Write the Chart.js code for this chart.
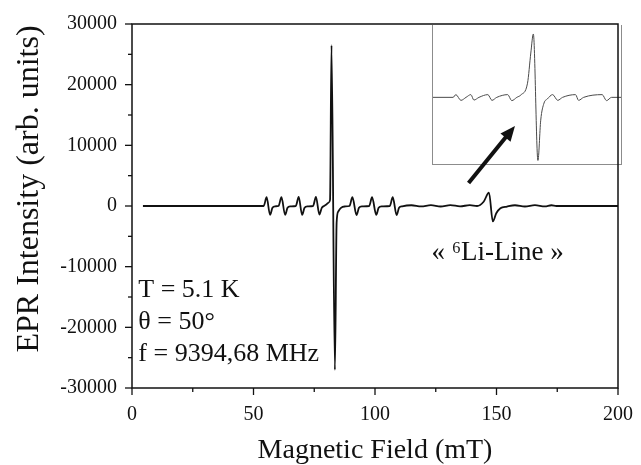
<!DOCTYPE html>
<html>
<head>
<meta charset="utf-8">
<script src="https://cdn.jsdelivr.net/npm/chart.js@4.4.1/dist/chart.umd.min.js"></script>
<style>
  html, body { margin: 0; padding: 0; background: #fff; }
  #wrap { position: relative; width: 641px; height: 465px; }
  #main { position: absolute; left: 0; top: 0; z-index: 2; }
  #insetBox {
    position: absolute; left: 432px; top: 25px; width: 190px; height: 140px; z-index: 1;
    box-sizing: border-box; border: 1px solid #8c8c8c; border-top: none; background: #fff;
  }
  #inset { display: block; }
</style>
</head>
<body>
<div id="wrap">
  <div id="insetBox"><canvas id="inset" width="188" height="139"></canvas></div>
  <canvas id="main" width="641" height="465"></canvas>
</div>
<script>
// spectrum: field in mT, intensity in arb. units
const fieldMT = [
  4.5, 30, 52.0,
  54.2, 55.4, 56.8, 57.8, 58.9,
  60.3, 61.5, 63.0, 64.0, 65.1,
  67.4, 68.6, 70.0, 71.0, 72.2,
  74.5, 75.7, 77.1, 78.1, 79.0,
  80.0, 80.9, 81.5, 82.1, 83.5, 84.2, 84.9, 86.0, 87.5,
  89.5, 90.7, 92.4, 93.4, 94.6,
  97.6, 98.8, 100.5, 101.5, 102.7,
  106.1, 107.3, 108.9, 109.9, 111.2,
  115, 119, 123, 127, 131, 135, 139, 142,
  144.7, 146.9, 148.5, 149.9, 151.6, 154.3,
  157.6, 161.7, 165.8, 169.9, 172.6, 174.6, 200
];
const eprIntensity = [
  0, 0, 0,
  0, 1450, -1450, -300, -50,
  0, 1450, -1450, -300, -50,
  0, 1500, -1450, -300, -50,
  0, 1500, -1400, -300, 0,
  250, 550, 1000, 26500, -27000, -2800, -900, -300, -80,
  0, 1450, -1500, -300, -50,
  0, 1450, -1450, -300, -50,
  0, 1450, -1500, -300, -50,
  120, -60, 130, -80, 150, -60, 140, 0,
  700, 2200, -2550, -1200, -380, -100,
  120, -80, 130, -60, 120, 0, 0
];

// inset trace
const insetField = [
  110, 117.9, 119.0, 121.0, 123.0, 124.9, 126.1, 128.1,
  131.6, 133.2, 135.1, 139.4, 141.0, 143.0,
  144.6, 147.2, 148.5, 149.5, 151.3, 152.4, 153.7, 155.0,
  157.1, 159.1, 161.0, 166.1, 167.3, 169.3, 176.6, 178.3, 180.3, 185
];
const insetIntensity = [
  0, 0, 100, -110, 0, 100, -100, 0,
  100, -110, 0, 100, -120, 0,
  90, 520, 1630, 2330, -2320, -840, -210, -60,
  100, -110, 0, 100, -110, 0, 100, -120, 0, 0
];

const xTicks = [0, 50, 100, 150, 200];
const xMinorTicks = [25, 75, 125, 175];
const yTicks = [-30000, -20000, -10000, 0, 10000, 20000, 30000];
const yMinorTicks = [-25000, -15000, -5000, 5000, 15000, 25000];

const conditionLines = ["T = 5.1 K", "θ = 50°", "f = 9394,68 MHz"];
const lineLabel = "« ⁶Li-Line »";
const yTitle = "EPR Intensity (arb. units)";
const xTitle = "Magnetic Field (mT)";

const serif = "'Liberation Serif', 'Times New Roman', serif";
const ink = "#111111";

const toPoints = (xs, ys) => xs.map((x, i) => ({ x, y: ys[i] }));

const decorations = {
  id: "decorations",
  afterDraw(chart) {
    const { ctx, chartArea: a, scales: { x, y } } = chart;
    const seg = (x1, y1, x2, y2) => {
      ctx.beginPath();
      ctx.moveTo(x1, y1);
      ctx.lineTo(x2, y2);
      ctx.stroke();
    };
    ctx.save();
    ctx.strokeStyle = ink;
    ctx.lineWidth = 1.5;
    ctx.strokeRect(a.left, a.top, a.right - a.left, a.bottom - a.top);

    ctx.lineWidth = 1.3;
    xTicks.forEach((v) => { const p = x.getPixelForValue(v); seg(p, a.bottom, p, a.bottom + 7); });
    xMinorTicks.forEach((v) => { const p = x.getPixelForValue(v); seg(p, a.bottom, p, a.bottom + 4); });
    yTicks.forEach((v) => { const p = y.getPixelForValue(v); seg(a.left, p, a.left - 7, p); });
    yMinorTicks.forEach((v) => { const p = y.getPixelForValue(v); seg(a.left, p, a.left - 4, p); });

    // rotated y title
    ctx.fillStyle = ink;
    ctx.font = `32px ${serif}`;
    ctx.textAlign = "center";
    ctx.textBaseline = "middle";
    ctx.translate(30, 189);
    ctx.rotate(-Math.PI / 2);
    ctx.fillText(yTitle, 0, 0);
    ctx.setTransform(1, 0, 0, 1, 0, 0);

    // measurement conditions
    ctx.font = `26px ${serif}`;
    ctx.textAlign = "left";
    ctx.textBaseline = "alphabetic";
    const noteY = [-15000, -20300, -25500];
    conditionLines.forEach((t, i) => ctx.fillText(t, x.getPixelForValue(2.6), y.getPixelForValue(noteY[i])));

    ctx.font = `27px ${serif}`;
    ctx.fillText(lineLabel, x.getPixelForValue(123.2), y.getPixelForValue(-8900));

    // arrow pointing into the inset
    const tx = x.getPixelForValue(138.5), ty = y.getPixelForValue(3800);
    const hx = x.getPixelForValue(157.6), hy = y.getPixelForValue(13200);
    const ang = Math.atan2(hy - ty, hx - tx);
    const headLen = 15, headHalf = 6.5;
    const bx = hx - headLen * Math.cos(ang), by = hy - headLen * Math.sin(ang);
    ctx.lineWidth = 4;
    ctx.lineCap = "butt";
    seg(tx, ty, bx + 2 * Math.cos(ang), by + 2 * Math.sin(ang));
    ctx.beginPath();
    ctx.moveTo(hx, hy);
    ctx.lineTo(bx + headHalf * Math.sin(ang), by - headHalf * Math.cos(ang));
    ctx.lineTo(bx - headHalf * Math.sin(ang), by + headHalf * Math.cos(ang));
    ctx.closePath();
    ctx.fill();
    ctx.restore();
  },
};

new Chart(document.getElementById("main"), {
  type: "line",
  data: {
    datasets: [{
      data: toPoints(fieldMT, eprIntensity),
      borderColor: ink,
      borderWidth: 1.8,
      pointRadius: 0,
      cubicInterpolationMode: "monotone",
      fill: false,
    }],
  },
  options: {
    responsive: false,
    animation: false,
    devicePixelRatio: 1,
    layout: { padding: { top: 24, right: 17, left: 0, bottom: 0 } },
    plugins: { legend: { display: false }, tooltip: { enabled: false } },
    scales: {
      x: {
        type: "linear",
        min: 0,
        max: 200,
        afterBuildTicks: (s) => { s.ticks = xTicks.map((v) => ({ value: v })); },
        afterFit: (s) => { s.height = 77; },
        ticks: { font: { family: serif, size: 20 }, color: ink, padding: 8, maxRotation: 0 },
        grid: { display: false, tickLength: 7 },
        border: { display: false },
        title: {
          display: true,
          text: xTitle,
          color: ink,
          font: { family: serif, size: 28, lineHeight: 1 },
          padding: 0,
        },
      },
      y: {
        type: "linear",
        min: -30000,
        max: 30000,
        afterBuildTicks: (s) => { s.ticks = yTicks.map((v) => ({ value: v })); },
        afterFit: (s) => { s.width = 132; },
        ticks: { font: { family: serif, size: 20 }, color: ink, padding: 8, callback: (v) => String(v) },
        grid: { display: false, tickLength: 7 },
        border: { display: false },
      },
    },
  },
  plugins: [decorations],
});

new Chart(document.getElementById("inset"), {
  type: "line",
  data: {
    datasets: [{
      data: toPoints(insetField, insetIntensity),
      borderColor: "#4a4a4a",
      borderWidth: 1,
      pointRadius: 0,
      cubicInterpolationMode: "monotone",
      fill: false,
    }],
  },
  options: {
    responsive: false,
    animation: false,
    devicePixelRatio: 1,
    layout: { padding: 0 },
    plugins: { legend: { display: false }, tooltip: { enabled: false } },
    scales: {
      x: { type: "linear", display: false, min: 110, max: 184 },
      y: { type: "linear", display: false, min: -2450, max: 2660 },
    },
  },
});
</script>
</body>
</html>
